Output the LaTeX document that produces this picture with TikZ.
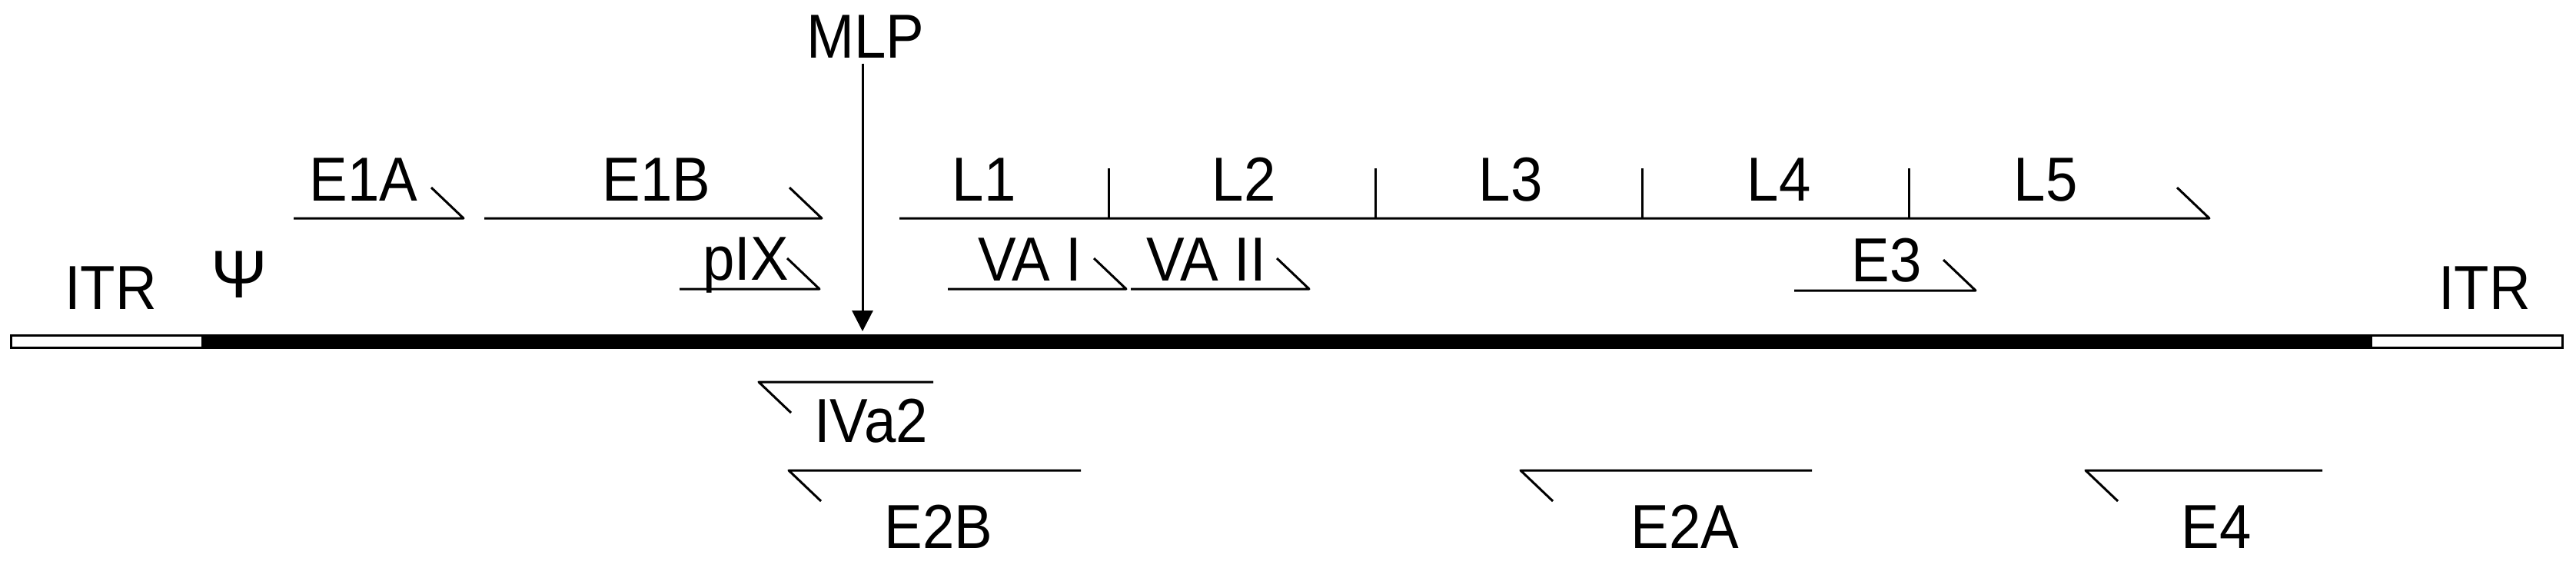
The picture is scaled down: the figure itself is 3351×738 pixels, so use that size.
\documentclass[tikz,border=0pt]{standalone}
\usepackage{fontspec}
\setmainfont[FakeStretch=0.92]{Liberation Sans}
\newfontfamily\psifont{Liberation Sans}
\usetikzlibrary{arrows.meta}
\begin{document}
\begin{tikzpicture}[x=0.01cm,y=-0.01cm,
  lbl/.style={anchor=base, inner sep=0pt, font=\fontsize{23}{27}\selectfont},
  gene/.style={line width=0.03cm, line join=round, line cap=butt},
  itrbox/.style={draw=black, fill=white, line width=0.03cm},
  arr/.style={line width=0.03cm, -{Triangle[length=0.27cm, width=0.27cm]}},
]
\useasboundingbox (0,0) rectangle (3351,738);

% genome
\fill[black] (264,435) rectangle (3083,454);
\draw[itrbox] (14.5,436.5) rectangle (263,452.5);
\draw[itrbox] (3084,436.5) rectangle (3333.5,452.5);

% labels
\node[lbl] (itrL) at (144,402) {ITR};
\node[lbl] (itrR) at (3232,402) {ITR};
\node[anchor=base, inner sep=0pt, font=\fontsize{25}{29}\psifont] (psi) at (311,387) {Ψ};
\node[lbl] (mlp) at (1126,75) {MLP};
\node[lbl] (e1a) at (473,261) {E1A};
\node[lbl] (e1b) at (854,261) {E1B};
\node[lbl] (l1) at (1280,261) {L1};
\node[lbl] (l2) at (1618,261) {L2};
\node[lbl] (l3) at (1965,261) {L3};
\node[lbl] (l4) at (2314,261) {L4};
\node[lbl] (l5) at (2661,261) {L5};
\node[lbl] (pix) at (970,364) {pIX};
\node[lbl] (vai) at (1340,365) {VA I};
\node[lbl] (vaii) at (1569,365) {VA II};
\node[lbl] (e3) at (2454,366) {E3};
\node[lbl] (iva2) at (1133,575) {IVa2};
\node[lbl] (e2b) at (1221,713) {E2B};
\node[lbl] (e2a) at (2192,713) {E2A};
\node[lbl] (e4) at (2883,713) {E4};

% MLP arrow
\coordinate (mlpT) at (1122,431);
\draw[arr, shorten <=0.07cm] (mlp.south -| mlpT) -- (mlpT);

% rightward transcripts (top strand)
\draw[gene] (382,284) -- (603,284) -- (561,244);
\draw[gene] (630,284) -- (1069,284) -- (1027,244);
\draw[gene] (884,376) -- (1066,376) -- (1024,336);
\draw[gene] (1170,284) -- (2874,284) -- (2832,244);
\foreach \tx in {1442,1789,2136,2483} \draw[gene] (\tx,219) -- (\tx,284);
\draw[gene] (1233,376) -- (1465,376) -- (1423,336);
\draw[gene] (1471,376) -- (1703,376) -- (1661,336);
\draw[gene] (2334,378) -- (2570,378) -- (2528,338);

% leftward transcripts (bottom strand)
\draw[gene] (1214,497) -- (987,497) -- (1029,537);
\draw[gene] (1406,612) -- (1026,612) -- (1068,652);
\draw[gene] (2357,612) -- (1978,612) -- (2020,652);
\draw[gene] (3021,612) -- (2713,612) -- (2755,652);
\end{tikzpicture}
\end{document}
